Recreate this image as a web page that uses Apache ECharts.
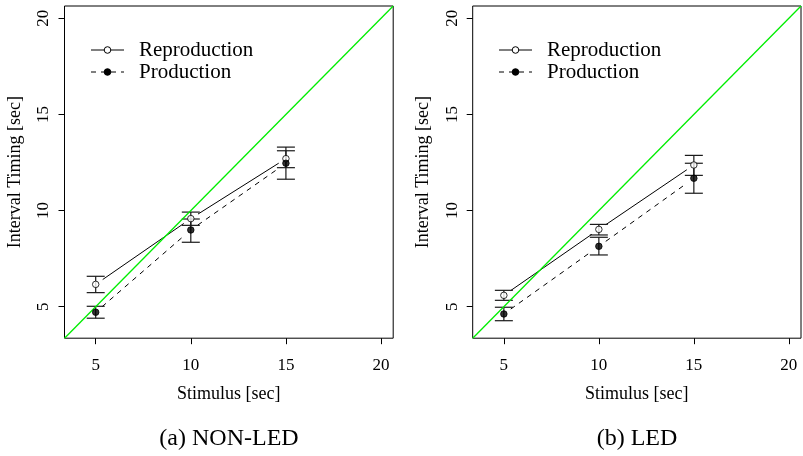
<!DOCTYPE html>
<html>
<head>
<meta charset="utf-8">
<script src="https://cdn.jsdelivr.net/npm/echarts@6/dist/echarts.min.js"></script>
<style>html,body{margin:0;padding:0;background:#fff}#c{width:803px;height:456px}</style>
</head>
<body>
<div id="c"></div>
<script>
// ---- data ----
const stimulus = [5, 10, 15];
const tickValues = [5, 10, 15, 20];
const axisRange = [3.36, 20.64];

const reproNonLed   = [6.16, 9.58, 12.70];
const reproNonLedLo = [5.73, 9.23, 12.23];
const reproNonLedHi = [6.58, 9.92, 13.11];
const prodNonLed    = [4.71, 8.99, 12.46];
const prodNonLedLo  = [4.40, 8.35, 11.63];
const prodNonLedHi  = [5.02, 9.56, 13.30];

const reproLed   = [5.59, 9.02, 12.37];
const reproLedLo = [5.33, 8.73, 11.83];
const reproLedHi = [5.85, 9.28, 12.87];
const prodLed    = [4.62, 8.14, 11.68];
const prodLedLo  = [4.27, 7.69, 10.90];
const prodLedHi  = [4.97, 8.61, 12.46];

const panelTitles = ['(a) NON-LED', '(b) LED'];
const legendNames = ['Reproduction', 'Production'];
const xName = 'Stimulus [sec]';
const yName = 'Interval Timing [sec]';

// ---- helpers ----
const FONT = '"Liberation Serif", "Times New Roman", serif';
const GAP = 8.5;   // px gap around points (type="b")
const CAP = 9;     // px half width of error bar caps

function segs(vals) {
  const out = [];
  for (let i = 0; i < vals.length - 1; i++) out.push([stimulus[i], vals[i], stimulus[i + 1], vals[i + 1]]);
  return out;
}
function bars(lo, hi) { return stimulus.map((x, i) => [x, lo[i], hi[i]]); }
function pts(vals) { return stimulus.map((x, i) => [x, vals[i]]); }

function segSeries(idx, vals, dashed) {
  return {
    type: 'custom', xAxisIndex: idx, yAxisIndex: idx, z: 3,
    encode: { x: [0, 2], y: [1, 3] },
    data: segs(vals),
    renderItem: function (params, api) {
      const p1 = api.coord([api.value(0), api.value(1)]);
      const p2 = api.coord([api.value(2), api.value(3)]);
      const dx = p2[0] - p1[0], dy = p2[1] - p1[1];
      const len = Math.sqrt(dx * dx + dy * dy);
      const ux = dx / len, uy = dy / len;
      return {
        type: 'line',
        shape: { x1: p1[0] + ux * GAP, y1: p1[1] + uy * GAP, x2: p2[0] - ux * GAP, y2: p2[1] - uy * GAP },
        style: { stroke: '#000', lineWidth: 1, lineDash: dashed ? [5, 5] : null }
      };
    }
  };
}
function barSeries(idx, lo, hi) {
  return {
    type: 'custom', xAxisIndex: idx, yAxisIndex: idx, z: 4,
    encode: { x: 0, y: [1, 2] },
    data: bars(lo, hi),
    renderItem: function (params, api) {
      const a = api.coord([api.value(0), api.value(1)]);
      const b = api.coord([api.value(0), api.value(2)]);
      const st = { stroke: '#1a1a1a', lineWidth: 1.2 };
      return {
        type: 'group',
        children: [
          { type: 'line', shape: { x1: a[0], y1: a[1], x2: b[0], y2: b[1] }, style: st },
          { type: 'line', shape: { x1: a[0] - CAP, y1: a[1], x2: a[0] + CAP, y2: a[1] }, style: st },
          { type: 'line', shape: { x1: b[0] - CAP, y1: b[1], x2: b[0] + CAP, y2: b[1] }, style: st }
        ]
      };
    }
  };
}
function ptSeries(idx, vals, filled, name) {
  return {
    type: 'scatter', name: name, xAxisIndex: idx, yAxisIndex: idx, z: 6,
    symbol: 'circle', symbolSize: 6.5,
    itemStyle: filled ? { color: '#000', borderColor: '#000', borderWidth: 1 }
                      : { color: '#fff', borderColor: '#000', borderWidth: 1 },
    data: pts(vals)
  };
}
function diagSeries(idx) {
  return {
    type: 'line', xAxisIndex: idx, yAxisIndex: idx, z: 5,
    showSymbol: false, silent: true, clip: false,
    lineStyle: { color: '#00ee00', width: 1.3 },
    data: [[axisRange[0], axisRange[0]], [axisRange[1], axisRange[1]]]
  };
}

const grids = [
  { left: 64.5, top: 6, width: 328.7, height: 332.2 },
  { left: 472.7, top: 6, width: 328.3, height: 332.2 }
];

function xAx(idx) {
  return {
    type: 'value', gridIndex: idx, min: axisRange[0], max: axisRange[1],
    name: xName, nameLocation: 'middle', nameGap: 47,
    nameTextStyle: { fontFamily: FONT, fontSize: 18, color: '#000' },
    axisLine: { show: false },
    axisTick: { show: true, inside: false, length: 6, customValues: tickValues, lineStyle: { color: '#000' } },
    axisLabel: { show: true, customValues: tickValues, margin: 19, fontFamily: FONT, fontSize: 17, color: '#000' },
    splitLine: { show: false }
  };
}
function yAx(idx) {
  return {
    type: 'value', gridIndex: idx, min: axisRange[0], max: axisRange[1],
    name: yName, nameLocation: 'middle', nameGap: 40, nameRotate: 90,
    nameTextStyle: { fontFamily: FONT, fontSize: 18, color: '#000' },
    axisLine: { show: false },
    axisTick: { show: true, inside: false, length: 6, customValues: tickValues, lineStyle: { color: '#000' } },
    axisLabel: { show: true, customValues: tickValues, rotate: 90, margin: 12, fontFamily: FONT, fontSize: 17, color: '#000' },
    splitLine: { show: false }
  };
}

// legend + captions as graphic elements
const graphics = [];
[[91, 139], [499, 547]].forEach(function (pos, p) {
  const x0 = pos[0], tx = pos[1];
  const rows = [{ y: 50, dashed: false, filled: false }, { y: 72, dashed: true, filled: true }];
  rows.forEach(function (r, i) {
    graphics.push({ type: 'line', shape: { x1: x0, y1: r.y, x2: x0 + 33, y2: r.y },
      style: { stroke: '#000', lineWidth: 1, lineDash: r.dashed ? [5, 5] : null } });
    graphics.push({ type: 'circle', shape: { cx: x0 + 16.5, cy: r.y, r: 3.3 },
      style: { fill: r.filled ? '#000' : '#fff', stroke: '#000', lineWidth: 1 } });
    graphics.push({ type: 'text', x: tx, y: r.y,
      style: { text: legendNames[i], font: '21px ' + FONT, fill: '#000', verticalAlign: 'middle', align: 'left' } });
  });
});
[[229, 0], [637, 1]].forEach(function (c) {
  graphics.push({ type: 'text', x: c[0], y: 439,
    style: { text: panelTitles[c[1]], font: '24px ' + FONT, fill: '#000', align: 'center', verticalAlign: 'middle' } });
});

const chart = echarts.init(document.getElementById('c'), null, { renderer: 'canvas' });
chart.setOption({
  animation: false,
  backgroundColor: '#fff',
  grid: grids.map(g => Object.assign({ show: true, borderColor: '#000', borderWidth: 1, backgroundColor: 'transparent' }, g)),
  xAxis: [xAx(0), xAx(1)],
  yAxis: [yAx(0), yAx(1)],
  graphic: graphics,
  series: [
    segSeries(0, reproNonLed, false), segSeries(0, prodNonLed, true),
    barSeries(0, reproNonLedLo, reproNonLedHi), barSeries(0, prodNonLedLo, prodNonLedHi),
    diagSeries(0),
    ptSeries(0, reproNonLed, false, legendNames[0]), ptSeries(0, prodNonLed, true, legendNames[1]),
    segSeries(1, reproLed, false), segSeries(1, prodLed, true),
    barSeries(1, reproLedLo, reproLedHi), barSeries(1, prodLedLo, prodLedHi),
    diagSeries(1),
    ptSeries(1, reproLed, false, legendNames[0]), ptSeries(1, prodLed, true, legendNames[1])
  ]
});
</script>
</body>
</html>
